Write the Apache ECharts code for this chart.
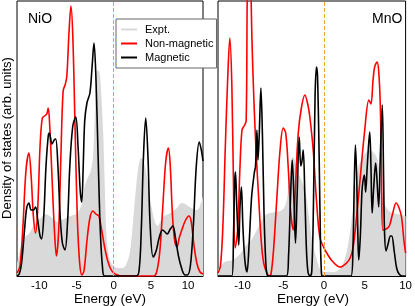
<!DOCTYPE html>
<html>
<head>
<meta charset="utf-8">
<script src="https://cdn.jsdelivr.net/npm/echarts@6/dist/echarts.min.js"></script>
<style>
html,body{margin:0;padding:0;background:#fff;}
#c{width:415px;height:306px;}
</style>
</head>
<body>
<div id="c"></div>
<script>
// ---- Data (energy in eV, DOS in arbitrary units) ----
const nioExpt = [[-13,12],[-12.6,25],[-12.2,35],[-11.8,40],[-11.4,42],[-10.8,50],[-10.2,56],[-9.8,58],[-9.2,62],[-8.6,60],[-8.0,56],[-7.6,54],[-7.0,56],[-6.4,58],[-5.8,60],[-5.1,62],[-4.6,66],[-4.3,72],[-3.9,90],[-3.5,98],[-3.1,105],[-2.8,118],[-2.6,150],[-2.4,190],[-2.2,206],[-1.9,204],[-1.7,185],[-1.4,140],[-1.2,90],[-1.0,45],[-0.7,22],[-0.4,14],[0,10],[0.6,8],[1.2,8],[1.7,12],[2.2,25],[2.6,55],[2.9,80],[3.3,108],[3.7,118],[4.0,115],[4.4,102],[4.8,82],[5.1,68],[5.5,55],[5.9,50],[6.3,55],[6.8,60],[7.4,62],[8.0,65],[8.5,68],[9.1,73],[9.6,72],[10.2,69],[10.7,67],[11.2,66],[11.6,70],[12,80]];
const nioNonMag = [[-13,3],[-12.6,10],[-12.2,50],[-11.8,105],[-11.4,123],[-11.1,100],[-10.8,60],[-10.5,43],[-10.2,70],[-9.9,130],[-9.6,158],[-9.3,160],[-9.0,162],[-8.8,168],[-8.6,150],[-8.3,100],[-8.0,50],[-7.7,20],[-7.4,45],[-7.1,120],[-6.8,185],[-6.5,192],[-6.3,200],[-6.0,245],[-5.75,270],[-5.5,240],[-5.2,150],[-4.9,60],[-4.6,15],[-4.3,1],[-4.0,5],[-3.6,35],[-3.2,58],[-2.8,65],[-2.4,62],[-2.0,60],[-1.6,45],[-1.2,28],[-0.8,15],[-0.4,7],[0,3],[0.5,1],[1,0],[5.4,0],[5.8,5],[6.2,25],[6.6,70],[7.0,115],[7.35,128],[7.6,110],[7.9,60],[8.2,35],[8.5,29],[8.8,38],[9.2,47],[9.6,55],[10.1,60],[10.4,55],[10.8,30],[11.2,12],[11.6,4],[12,2]];
const nioMag = [[-13,0],[-12.7,2],[-12.4,12],[-12.0,45],[-11.7,68],[-11.4,73],[-11.1,66],[-10.8,66],[-10.5,69],[-10.2,55],[-9.9,40],[-9.7,37],[-9.4,60],[-9.1,110],[-8.8,140],[-8.65,143],[-8.3,132],[-8.0,136],[-7.8,137],[-7.5,110],[-7.2,60],[-6.9,33],[-6.55,26],[-6.2,55],[-5.9,110],[-5.5,150],[-5.1,159],[-4.8,130],[-4.5,85],[-4.3,74],[-4.1,110],[-3.9,155],[-3.6,173],[-3.2,183],[-2.9,210],[-2.65,233],[-2.4,200],[-2.1,120],[-1.8,45],[-1.5,8],[-1.2,0],[3.0,0],[3.4,5],[3.7,45],[4.0,120],[4.3,158],[4.6,120],[4.9,50],[5.3,19],[5.7,25],[6.1,38],[6.55,46],[6.9,44],[7.2,42],[7.6,47],[7.95,50],[8.3,38],[8.7,20],[9.2,6],[9.6,1],[9.9,1],[10.3,10],[10.7,50],[11.1,110],[11.5,134],[11.8,125],[12,115]];

const mnoExpt = [[-13,6],[-12.2,14],[-11.2,16],[-10.3,22],[-9.6,30],[-9,35],[-8.3,45],[-7.6,56],[-7.2,61],[-6.6,63],[-5.8,64],[-5,67],[-4.6,75],[-4.3,95],[-4.0,117],[-3.8,119],[-3.4,110],[-3.0,100],[-2.5,90],[-2.15,78],[-1.85,59],[-1.4,32],[-1.0,20],[-0.5,7],[0,4],[1.0,4],[1.8,6],[2.35,13],[2.8,25],[3.16,43],[3.5,65],[3.77,86],[4.1,103],[4.38,113],[5.0,122],[5.6,126],[6.2,122],[6.6,115],[7.0,89],[7.3,75],[7.6,69],[8.0,65],[8.4,63],[9.0,62],[9.6,61],[10,60]];
const mnoNonMag = [[-13,3],[-12.7,10],[-12.4,50],[-12.1,130],[-11.8,200],[-11.55,238],[-11.3,190],[-11.1,90],[-10.9,28],[-10.6,45],[-10.3,110],[-10.06,146],[-9.8,150],[-9.55,155],[-9.4,290],[-9.2,340],[-9.0,300],[-8.85,240],[-8.6,176],[-8.3,120],[-8.0,76],[-7.7,35],[-7.4,13],[-7.0,3],[-6.7,0],[-6.5,2],[-6.2,25],[-5.8,76],[-5.4,125],[-5.0,148],[-4.7,143],[-4.4,110],[-4.1,65],[-3.77,46],[-3.5,90],[-3.16,143],[-2.76,169],[-2.35,181],[-2.0,172],[-1.74,159],[-1.33,126],[-0.93,76],[-0.5,38],[0,28],[0.33,23],[1.0,15],[1.95,9],[2.76,13],[3.2,18],[3.57,29],[4.0,60],[4.38,93],[4.99,146],[5.5,176],[5.75,172],[6.0,195],[6.2,209],[6.5,214],[6.7,205],[6.9,170],[7.05,100],[7.2,46],[7.6,47],[8.0,50],[8.4,62],[8.84,73],[9.2,68],[9.5,59],[9.8,35],[10,23]];
const mnoMag = [[-13,0],[-11.3,0],[-11.1,40],[-10.95,95],[-10.86,104],[-10.7,70],[-10.46,31],[-10.3,70],[-10.13,89],[-9.95,50],[-9.7,15],[-9.45,4],[-9.2,30],[-8.95,70],[-8.84,83],[-8.55,103],[-8.4,110],[-8.23,146],[-8.1,116],[-7.95,140],[-7.74,188],[-7.55,140],[-7.35,60],[-7.15,15],[-7.0,2],[-6.8,0],[-4.6,0],[-4.35,20],[-4.1,80],[-3.9,116],[-3.7,80],[-3.5,33],[-3.3,80],[-3.04,139],[-2.85,110],[-2.7,115],[-2.55,126],[-2.35,80],[-2.15,25],[-1.95,3],[-1.7,0],[-1.5,5],[-1.3,70],[-1.1,180],[-0.93,209],[-0.8,200],[-0.6,120],[-0.45,40],[-0.33,5],[-0.2,0],[3.3,0],[3.55,30],[3.7,90],[3.85,131],[4.0,100],[4.15,40],[4.26,16],[4.45,40],[4.65,85],[4.8,96],[4.95,101],[5.1,84],[5.3,110],[5.6,144],[5.75,110],[5.9,63],[6.1,90],[6.33,113],[6.5,95],[6.7,69],[6.9,120],[7.14,171],[7.3,100],[7.42,43],[7.6,25],[7.85,32],[8.15,40],[8.3,40],[8.6,25],[8.9,8],[9.2,2],[9.6,0],[10,0]];

const nioTicks = [-12.5,-10,-7.5,-5,-2.5,0,2.5,5,7.5,10];
const nioLabels = [-10,-5,0,5,10];
const mnoTicks = [-12.5,-10,-7.5,-5,-2.5,0,2.5,5,7.5];
const mnoLabels = [-10,-5,0,5,10];
const seriesNames = ['Expt.','Non-magnetic','Magnetic'];
const panelTitles = ['NiO','MnO'];
const xTitle = 'Energy (eV)';
const yTitle = 'Density of states (arb. units)';

const FONT = 'Liberation Sans, Arial, Helvetica, sans-serif';
const chart = echarts.init(document.getElementById('c'), null, {renderer:'canvas'});

function xAxisCfg(gi, min, max, ticks, labels){
  return {
    type:'value', gridIndex:gi, min:min, max:max,
    axisLine:{show:true, onZero:false, lineStyle:{color:'#000', width:1}},
    axisTick:{show:true, inside:true, length:4, customValues:ticks, lineStyle:{color:'#000'}},
    axisLabel:{show:true, customValues:labels, margin:4, fontFamily:FONT, fontSize:11.5, color:'#000',
      formatter:v=>String(v)},
    splitLine:{show:false}
  };
}
function yAxisCfg(gi){
  return {
    type:'value', gridIndex:gi, min:0, max:275,
    axisLine:{show:false}, axisTick:{show:false}, axisLabel:{show:false}, splitLine:{show:false}
  };
}
function mk(name, gi, data, kind){
  const s = {name:name, type:'line', xAxisIndex:gi, yAxisIndex:gi, data:data,
    symbol:'none', smooth:0.35, clip:true, animation:false};
  if(kind==='expt'){
    s.color = '#d9d9d9';
    s.lineStyle = {width:0, color:'#d9d9d9'};
    s.areaStyle = {color:'#d9d9d9', opacity:1};
    s.z = 1;
  } else if(kind==='red'){
    s.color = '#ff0000';
    s.lineStyle = {width:1.6, color:'#ff0000'};
    s.z = 2;
  } else {
    s.color = '#000000';
    s.lineStyle = {width:1.6, color:'#000000'};
    s.z = 3;
  }
  return s;
}
const vline = (gi)=>({
  type:'line', xAxisIndex:gi, yAxisIndex:gi, data:[], silent:true,
  markLine:{symbol:'none', silent:true, animation:false, label:{show:false},
    lineStyle:{color:'#f0a030', type:[4,2], width:1}, data:[{xAxis:0}]}
});

chart.setOption({
  animation:false,
  backgroundColor:'#fff',
  textStyle:{fontFamily:FONT},
  grid:[
    {left:17, top:1, width:186, height:275, show:true, borderColor:'#000', borderWidth:1, backgroundColor:'transparent'},
    {left:218, top:1, width:189, height:275, show:true, borderColor:'#000', borderWidth:1, backgroundColor:'transparent'}
  ],
  xAxis:[ xAxisCfg(0,-13,12,nioTicks,nioLabels), xAxisCfg(1,-13,10,mnoTicks,mnoLabels) ],
  yAxis:[ yAxisCfg(0), yAxisCfg(1) ],
  legend:{
    data:seriesNames, orient:'vertical', left:116, top:19,
    padding:[4,3,4,5], itemGap:1, itemWidth:16, itemHeight:2, icon:'rect',
    backgroundColor:'#fff', borderColor:'#666', borderWidth:1,
    textStyle:{fontFamily:FONT, fontSize:11, color:'#000', lineHeight:13, padding:[0,0,0,3]},
    itemStyle:{borderWidth:0}, z:10
  },
  graphic:[
    {type:'text', left:28, top:12, z:20, style:{text:panelTitles[0], font:'14px '+FONT, fill:'#000'}},
    {type:'text', left:372, top:12, z:20, style:{text:panelTitles[1], font:'14px '+FONT, fill:'#000'}},
    {type:'text', x:110, y:299, z:20, style:{text:xTitle, font:'13.5px '+FONT, fill:'#000', align:'center', verticalAlign:'middle'}},
    {type:'text', x:313, y:299, z:20, style:{text:xTitle, font:'13.5px '+FONT, fill:'#000', align:'center', verticalAlign:'middle'}},
    {type:'text', x:7, y:138, rotation:Math.PI/2, z:20, style:{text:yTitle, font:'13px '+FONT, fill:'#000', align:'center', verticalAlign:'middle'}}
  ],
  series:[
    mk(seriesNames[0],0,nioExpt,'expt'),
    mk(seriesNames[1],0,nioNonMag,'red'),
    mk(seriesNames[2],0,nioMag,'black'),
    mk(seriesNames[0],1,mnoExpt,'expt'),
    mk(seriesNames[1],1,mnoNonMag,'red'),
    mk(seriesNames[2],1,mnoMag,'black'),
    vline(0), vline(1)
  ]
});
</script>
</body>
</html>
